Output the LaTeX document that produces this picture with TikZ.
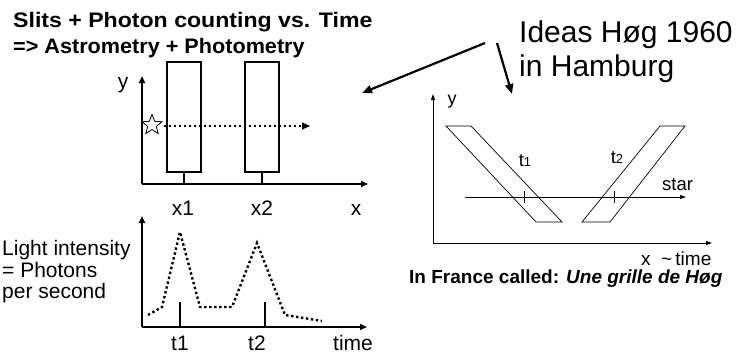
\documentclass[tikz,border=0pt]{standalone}
\usepackage{fontspec}
\setmainfont{Liberation Sans}
\usetikzlibrary{arrows.meta,shapes.geometric,calc}
\begin{document}
\begin{tikzpicture}[x=1pt,y=-1pt,
  thickax/.style={line width=2pt,-{Triangle[length=7pt,width=6pt]}},
  thinax/.style={line width=0.9pt,-{Triangle[length=6pt,width=4pt]}},
  pointer/.style={line width=2.2pt,-{Triangle[length=10pt,width=8pt]}},
  slitbox/.style={draw,line width=2pt,minimum width=34pt,minimum height=110pt,inner sep=0pt},
  dotline/.style={line width=2.4pt,dash pattern=on 2.4pt off 2.6pt},
  txt/.style={inner sep=0pt,anchor=base west},
  ctxt/.style={inner sep=0pt,anchor=base},
  big/.style={font=\fontsize{21}{22}\selectfont},
  mid/.style={font=\fontsize{18.5}{20}\selectfont},
  title/.style={font=\fontsize{21}{24}\selectfont\bfseries},
  huge/.style={font=\fontsize{30}{34}\selectfont}]
\useasboundingbox (0,0) rectangle (746,356);

% titles
\node[txt,title] (t1line) at (13,27.5) {\scalebox{1.10}[1]{Slits + Photon counting vs. Time}};
\node[txt,title] (t2line) at (13,53) {\scalebox{1.03}[1]{=> Astrometry + Photometry}};
\node[txt,huge] (ideas) at (519,42) {Ideas Høg 1960};
\node[txt,huge] (hamb) at (519,76) {in Hamburg};

% pointers
\coordinate (p1s) at (485,43);
\coordinate (p1e) at (362,93);
\coordinate (p2s) at (497,43);
\coordinate (p2e) at (512,94);
\draw[pointer] (p1s) -- (p1e);
\draw[pointer] (p2s) -- (p2e);

% ---- top-left plot
\coordinate (o1) at (142,184);
\coordinate (y1) at (142,76);
\coordinate (x1e) at (368,184);
\draw[thickax] (o1) -- (y1);
\draw[thickax] (o1) -- (x1e);
\node[ctxt,big] (ylab1) at (123,88) {y};
\node[slitbox] (slitA) at (184,117) {};
\node[slitbox] (slitB) at (261.5,117) {};
\draw[line width=2pt] (slitA.south) -- (slitA.south |- o1);
\draw[line width=2pt] (slitB.south) -- (slitB.south |- o1);
\node[star,star points=5,star point ratio=2.3,draw,line width=0.8pt,minimum size=21pt,inner sep=0pt] (starA) at (152,125) {};
\coordinate (dotend) at (310,126);
\coordinate (dotstart) at (164,126);
\draw[dotline] (dotstart) -- ($(dotend)+(-6,0)$);
\draw[line width=1pt,-{Triangle[length=8pt,width=7pt]}] ($(dotend)+(-8,0)$) -- (dotend);
\node[ctxt,big] (xl1) at (183,215) {x1};
\node[ctxt,big] (xl2) at (262,215) {x2};
\node[ctxt,big] (xl) at (356,215) {x};

% ---- bottom-left plot
\coordinate (o2) at (142,327);
\coordinate (y2) at (142,216);
\coordinate (x2e) at (367,327);
\draw[thickax] (o2) -- (y2);
\draw[thickax] (o2) -- (x2e);
\draw[dotline] (148,315) -- (162,307) -- (180,232) -- (200,307) -- (232,307) -- (257,243) -- (285,315) -- (322,321);
\coordinate (tk1) at (180,302);
\coordinate (tk2) at (265,302);
\draw[line width=2pt] (tk1) -- (tk1 |- o2);
\draw[line width=2pt] (tk2) -- (tk2 |- o2);
\node[ctxt,big] (tl1) at (180,350) {t1};
\node[ctxt,big] (tl2) at (257,350) {t2};
\node[txt,big] (tl) at (333,350) {time};
\node[txt,big] (li1) at (2,255) {Light intensity};
\node[txt,big] (li2) at (2,277) {= Photons};
\node[txt,big] (li3) at (2,298) {per second};

% ---- right plot
\coordinate (o3) at (433,243);
\coordinate (y3) at (433,94);
\coordinate (x3e) at (712,243);
\draw[thinax] (o3) -- (y3);
\draw[thinax] (o3) -- (x3e);
\node[ctxt,font=\fontsize{18}{20}\selectfont] (ylab3) at (452,104) {y};
\draw[line width=0.7pt] (446,126) -- (471,126) -- (562,222) -- (536,222) -- cycle;
\draw[line width=0.7pt] (660,126) -- (685,126) -- (610,222) -- (582,222) -- cycle;
\coordinate (sl1) at (465,197);
\coordinate (sl2) at (686,197);
\draw[line width=0.8pt,-{Triangle[length=6pt,width=4pt]}] (sl1) -- (sl2);
\draw[line width=0.8pt] (524,191) -- (524,203);
\draw[line width=0.8pt] (614,191) -- (614,203);
\node[ctxt,mid] (rt1) at (525,166) {t{\fontsize{13}{14}\selectfont 1}};
\node[ctxt,mid] (rt2) at (617,163) {t{\fontsize{13}{14}\selectfont 2}};
\node[txt,mid] (starl) at (662,190.5) {star};
\node[txt,font=\fontsize{19}{20}\selectfont] (xl3) at (641,265.5) {x};
\node[txt,font=\fontsize{19}{20}\selectfont] (timel3) at (661,265.5) {\textasciitilde\,time};
\node[txt,font=\fontsize{19}{20}\selectfont] (france) at (409,283.5) {\textbf{In France called: \textit{Une grille de Høg}}};
\end{tikzpicture}
\end{document}
